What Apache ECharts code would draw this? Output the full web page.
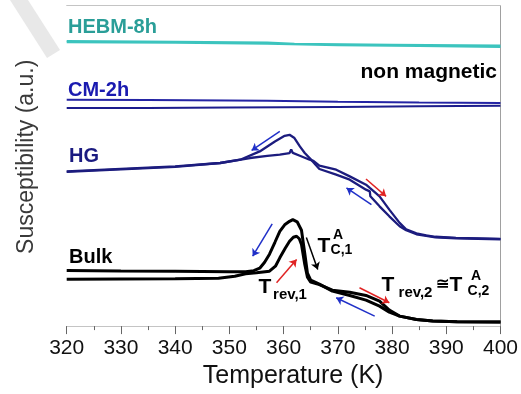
<!DOCTYPE html>
<html>
<head>
<meta charset="utf-8">
<script src="https://cdn.jsdelivr.net/npm/echarts@6/dist/echarts.min.js"></script>
<style>
html,body{margin:0;padding:0;background:#fff;}
#chart{width:521px;height:394px;}
</style>
</head>
<body>
<div id="chart"></div>
<script>
// ---- data (Temperature in K, susceptibility in arbitrary units) ----
const xTicks = [320, 330, 340, 350, 360, 370, 380, 390, 400];

const hebmUpperT = [320, 340, 357, 362, 380, 400];
const hebmUpperV = [285.7, 285, 284.2, 283, 282, 281];
const hebmLowerT = [320, 340, 357, 370, 385, 400];
const hebmLowerV = [284.3, 283.8, 283, 281.5, 280.5, 279.7];

const cmUpperT = [320, 335, 350, 357, 370, 385, 400];
const cmUpperV = [226.7, 226.4, 226, 225.7, 224.8, 224, 223.4];
const cmLowerT = [320, 335, 350, 370, 385, 400];
const cmLowerV = [218.4, 218.6, 219, 219.6, 220.2, 220.7];

const hgHeatT = [320, 330, 340, 348.3, 353.8, 357, 359.3, 361.1, 361.4, 361.7, 363, 364.8, 365.5, 366.6, 369.7, 372.2, 375.2, 375.9, 377.7, 379.5, 381.4, 382.6, 384.5, 386.3, 388, 391.8, 400];
const hgHeatV = [155, 157.5, 160, 163.4, 168.4, 170.5, 171.7, 173.4, 177, 173.5, 170.7, 166.7, 165.5, 160.7, 156.7, 150, 141.7, 138.4, 130, 116.7, 103.4, 97, 93, 91, 89.5, 88.4, 87.4];
const hgCoolT = [320, 330, 340, 348.3, 352, 355.6, 358.4, 360.2, 361.1, 362, 363, 363.9, 365.2, 366.6, 369.7, 372.2, 375.2, 375.9, 376, 377.7, 379.5, 381.4, 382.6, 384.5, 386.3, 388, 391.8, 400];
const hgCoolV = [154.5, 157, 159.5, 163.4, 166.7, 175, 185, 190.7, 191.7, 188.4, 180, 173.4, 166, 157.4, 151.7, 146.7, 136.7, 135, 130, 120, 110, 100, 96, 92, 90.5, 89, 88, 87];

const bulkHeatT = [320, 330, 340, 348, 351, 353, 355, 357.4, 358.5, 359.3, 360.3, 361.1, 361.8, 362.4, 362.9, 363.3, 363.9, 364.4, 365, 366.6, 369, 372.2, 375.2, 377.7, 379.5, 381.4, 384.5, 387.5, 392, 400];
const bulkHeatV = [47, 47.3, 47.5, 48, 50, 52.5, 53.5, 55, 60, 68.4, 78, 85, 89, 90, 87.5, 81.7, 62, 49, 44, 41.5, 36, 34, 30.7, 25, 16, 10, 6.7, 5, 4.3, 4];
const bulkCoolT = [320, 330, 340, 350, 353, 354.5, 355.6, 356.5, 357.4, 358.4, 359.3, 360.2, 361.1, 361.7, 362.5, 363.3, 363.9, 364.4, 365, 366.6, 369, 372.2, 375.2, 377.7, 379.5, 381.4, 384.5, 387.5, 392, 400];
const bulkCoolV = [55.7, 55.3, 55, 54.5, 54.5, 55.5, 58, 64, 72, 84, 95, 101.5, 105, 106.7, 104.5, 96, 73, 53, 46, 42, 35, 30.7, 26, 20, 14, 10, 6.7, 5, 4.3, 4];

// arrows: [T0, v0, T1, v1] (arrow head at the second point)
const arrowsBlue = [[359.3, 195, 354.1, 176], [376.2, 121.7, 371.6, 138.4], [357.9, 102.4, 354.3, 70], [376.8, 10, 369.7, 28.4]];
const arrowsRed = [[375.2, 147.4, 378.9, 130], [358.7, 43.4, 362.4, 66.7], [374.0, 38.4, 379.5, 23.4]];
const arrowsBlack = [[364.2, 88.7, 366.3, 56.7]];

function pairs(t, v) { return t.map((x, i) => [x, v[i]]); }

const FONT = 'Liberation Sans, Arial, Helvetica, sans-serif';
const chart = echarts.init(document.getElementById('chart'), null, { renderer: 'canvas' });

function lineSeries(name, t, v, color, width) {
  return {
    name: name, type: 'line', data: pairs(t, v), showSymbol: false, symbol: 'none',
    lineStyle: { color: color, width: width }, itemStyle: { color: color },
    xAxisIndex: 0, yAxisIndex: 0, silent: true, z: 3
  };
}
function arrowSeries(list, color) {
  return {
    type: 'lines', coordinateSystem: 'cartesian2d', xAxisIndex: 0, yAxisIndex: 0,
    symbol: ['none', 'arrow'], symbolSize: [0, 7], silent: true, z: 5,
    lineStyle: { color: color, width: 1.5, opacity: 1 },
    data: list.map(a => ({ coords: [[a[0], a[1]], [a[2], a[3]]] }))
  };
}

function txt(x, y, s, size, color, align) {
  return { type: 'text', x: x, y: y, z: 10, silent: true,
    style: { text: s, fill: color, font: 'bold ' + size + 'px ' + FONT,
      textAlign: align || 'left', textVerticalAlign: 'middle' } };
}

const option = {
  animation: false,
  backgroundColor: '#ffffff',
  grid: { left: 66.7, right: 20, top: 5.5, bottom: 67.3, containLabel: false },
  xAxis: [{
    type: 'value', min: 320, max: 400, interval: 10, position: 'bottom',
    axisLine: { show: true, lineStyle: { color: '#c4c4c4', width: 1 } },
    axisTick: { show: true, inside: false, length: 8, lineStyle: { color: '#666' } },
    minorTick: { show: true, splitNumber: 2, length: 4, lineStyle: { color: '#666' } },
    splitLine: { show: false },
    axisLabel: { fontSize: 21, color: '#111', fontFamily: FONT, margin: 12,
      formatter: v => (xTicks.indexOf(v) >= 0 ? String(v) : '') },
    name: 'Temperature (K)', nameLocation: 'middle', nameGap: 36,
    nameTextStyle: { fontSize: 25, color: '#111', fontFamily: FONT, padding: [0, 0, 0, 19] }
  }, {
    type: 'value', min: 320, max: 400, position: 'top',
    axisLine: { show: true, onZero: false, lineStyle: { color: '#c4c4c4', width: 1 } },
    axisTick: { show: false }, axisLabel: { show: false }, splitLine: { show: false }
  }],
  yAxis: [{
    type: 'value', min: 0, max: 321.2, position: 'left',
    axisLine: { show: false }, axisTick: { show: false }, axisLabel: { show: false }, splitLine: { show: false },
    name: 'Susceptibility (a.u.)', nameLocation: 'middle', nameGap: 29, nameRotate: 90,
    nameTextStyle: { fontSize: 23, color: '#3a3a3a', fontFamily: FONT, padding: [0, 0, 0, 18] }
  }, {
    type: 'value', min: 0, max: 321.2, position: 'right',
    axisLine: { show: true, onZero: false, lineStyle: { color: '#a0a0a0', width: 1 } },
    axisTick: { show: false }, axisLabel: { show: false }, splitLine: { show: false }
  }],
  series: [
    lineSeries('HEBM-8h heating', hebmUpperT, hebmUpperV, '#3cc4be', 2),
    lineSeries('HEBM-8h cooling', hebmLowerT, hebmLowerV, '#3cc4be', 2),
    lineSeries('CM-2h heating', cmUpperT, cmUpperV, '#2424a4', 2),
    lineSeries('CM-2h cooling', cmLowerT, cmLowerV, '#1c1c8c', 2),
    lineSeries('HG heating', hgHeatT, hgHeatV, '#1c1c7e', 2.3),
    lineSeries('HG cooling', hgCoolT, hgCoolV, '#1c1c7e', 2.3),
    lineSeries('Bulk heating', bulkHeatT, bulkHeatV, '#000000', 3),
    lineSeries('Bulk cooling', bulkCoolT, bulkCoolV, '#000000', 3),
    arrowSeries(arrowsBlue, '#2030c8'),
    arrowSeries(arrowsRed, '#e02424'),
    arrowSeries(arrowsBlack, '#000000')
  ],
  graphic: [
    { type: 'polygon', z: -1, silent: true,
      shape: { points: [[10, 0], [28, 0], [60, 50], [47, 58]] },
      style: { fill: '#e8e8e8' } },
    txt(68, 27, 'HEBM-8h', 20, '#2a9e98'),
    txt(68, 90, 'CM-2h', 20, '#1a1ab0'),
    txt(497, 72, 'non magnetic', 21, '#000', 'right'),
    txt(69, 156.5, 'HG', 20, '#1a1a80'),
    txt(69, 257, 'Bulk', 20, '#000'),
    // T^A_{C,1}
    txt(324, 246, 'T', 21, '#000', 'center'),
    txt(338, 235, 'A', 14, '#000', 'center'),
    txt(341.5, 250, 'C,1', 14, '#000', 'center'),
    // T_{rev,1}
    txt(265, 287.5, 'T', 21, '#000', 'center'),
    txt(290, 295, 'rev,1', 15, '#000', 'center'),
    // T_{rev,2} ≅ T^A_{C,2}
    txt(388, 285, 'T', 21, '#000', 'center'),
    txt(415.5, 292.5, 'rev,2', 15, '#000', 'center'),
    txt(442.5, 285, '≅', 16, '#000', 'center'),
    txt(456, 285, 'T', 21, '#000', 'center'),
    txt(476, 276, 'A', 14, '#000', 'center'),
    txt(478.5, 291, 'C,2', 14, '#000', 'center')
  ]
};
chart.setOption(option);
</script>
</body>
</html>
